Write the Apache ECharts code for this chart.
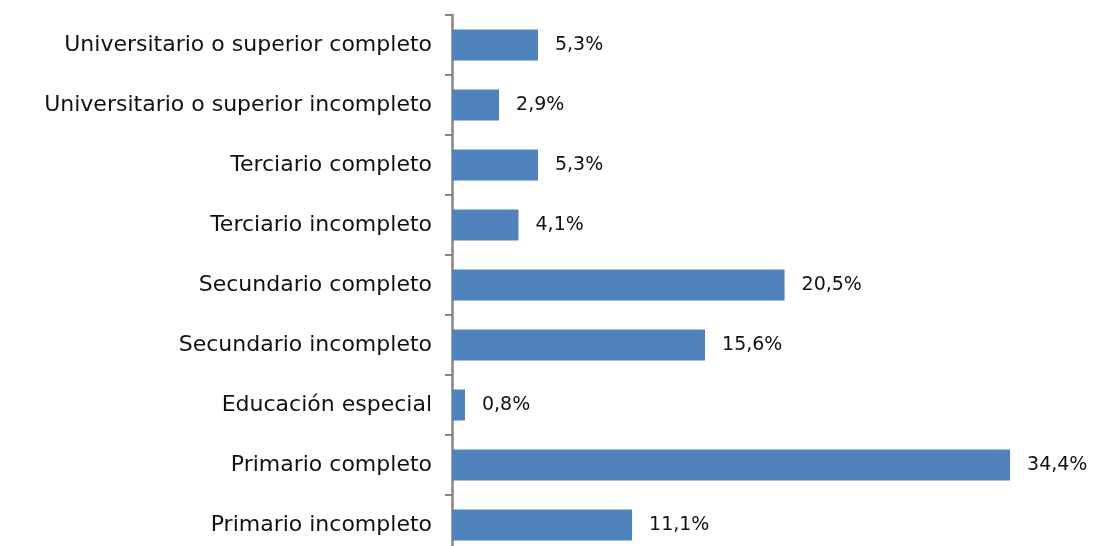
<!DOCTYPE html>
<html>
<head>
<meta charset="utf-8">
<script src="https://cdn.jsdelivr.net/npm/echarts@6/dist/echarts.min.js"></script>
<style>
  html, body { margin: 0; padding: 0; background: #fff; }
  #chart { width: 1096px; height: 546px; }
</style>
</head>
<body>
<div id="chart"></div>
<script>
// Nivel educativo alcanzado (% del total)
const categories = [
  'Primario incompleto',
  'Primario completo',
  'Educación especial',
  'Secundario incompleto',
  'Secundario completo',
  'Terciario incompleto',
  'Terciario completo',
  'Universitario o superior incompleto',
  'Universitario o superior completo'
];
const values = [11.1, 34.4, 0.8, 15.6, 20.5, 4.1, 5.3, 2.9, 5.3];

const chart = echarts.init(document.getElementById('chart'));
chart.setOption({
  animation: false,
  grid: { left: 452, top: 15, width: 584, height: 540, containLabel: false, outerBoundsMode: 'none' },
  xAxis: {
    type: 'value', min: 0, max: 36,
    show: false
  },
  yAxis: {
    type: 'category',
    data: categories,
    axisLine: { show: true, lineStyle: { color: '#868686', width: 2.5 } },
    axisTick: { show: true, length: 7, lineStyle: { color: '#868686', width: 2 } },
    axisLabel: {
      margin: 20,
      color: '#111',
      fontFamily: 'DejaVu Sans',
      fontSize: 22
    }
  },
  series: [{
    type: 'bar',
    data: values,
    barWidth: 31,
    itemStyle: { color: '#4F81BD' },
    label: {
      show: true,
      position: 'right',
      distance: 17,
      color: '#111',
      fontFamily: 'DejaVu Sans',
      fontSize: 19,
      formatter: p => p.value.toFixed(1).replace('.', ',') + '%'
    }
  }]
});
</script>
</body>
</html>
